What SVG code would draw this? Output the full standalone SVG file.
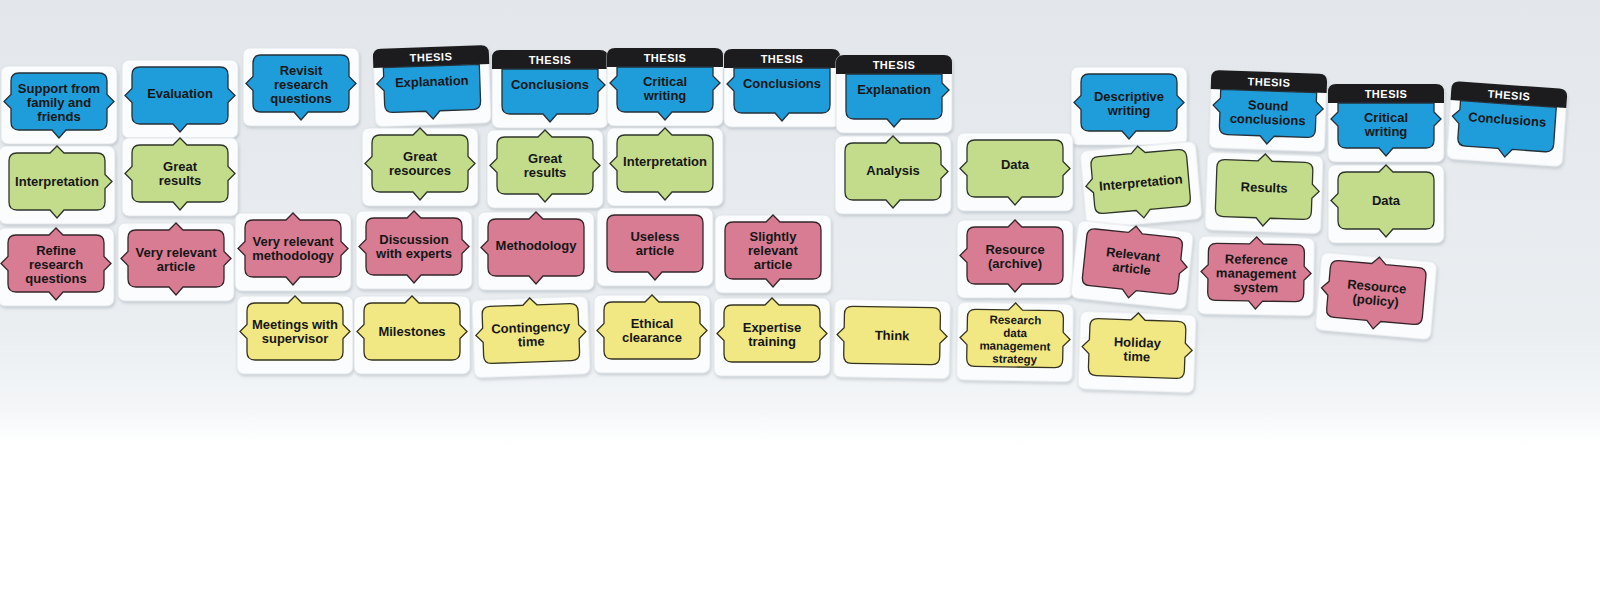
<svg xmlns="http://www.w3.org/2000/svg" xmlns:xlink="http://www.w3.org/1999/xlink" width="1600" height="600" viewBox="0 0 1600 600">
<style>
.card{fill:#fbfcfd;stroke:#dde2e6;stroke-width:0.8;filter:url(#sh)}
.blue{fill:#1f9ddb;stroke:#24303a;stroke-width:1.3}
.green{fill:#c2dc8c;stroke:#2e3428;stroke-width:1.3}
.pink{fill:#d77c93;stroke:#35252a;stroke-width:1.3}
.yellow{fill:#f1e883;stroke:#35331f;stroke-width:1.3}
.hdr{fill:#1c1c1f}
.th{font-family:"Liberation Sans",Arial,sans-serif;font-weight:bold;font-size:11px;fill:#ffffff;text-anchor:middle;letter-spacing:0.5px}
.lbl{font-family:"Liberation Sans",Arial,sans-serif;font-weight:bold;font-size:13px;fill:#161616;text-anchor:middle}
.sm{font-size:11.5px}
</style>
<defs>
<linearGradient id="bg" x1="0" y1="0" x2="0" y2="1">
<stop offset="0" stop-color="#e3e7eb"/>
<stop offset="0.55" stop-color="#eaeef1"/>
<stop offset="0.68" stop-color="#f4f6f8"/>
<stop offset="0.74" stop-color="#ffffff"/>
</linearGradient>
<filter id="sh" x="-10%" y="-10%" width="130%" height="140%">
<feDropShadow dx="1" dy="2" stdDeviation="1.6" flood-color="#7f8b96" flood-opacity="0.35"/>
</filter>
<rect id="base" class="card" x="0" y="0" width="116" height="78" rx="7"/>
<path id="hd" d="M0 19V8Q0 0 8 0H108Q116 0 116 8V19Z"/>
<path id="s-lrb" d="M18 7H98Q106 7 106 15V28.5L113 35.5L106 42.5V56Q106 64 98 64H65L58 72L51 64H18Q10 64 10 56V42.5L3 35.5L10 28.5V15Q10 7 18 7Z"/>
<path id="s-trb" d="M18 7H51L58 0L65 7H98Q106 7 106 15V28.5L113 35.5L106 42.5V56Q106 64 98 64H65L58 72L51 64H18Q10 64 10 56V15Q10 7 18 7Z"/>
<path id="s-tlrb" d="M18 7H51L58 0L65 7H98Q106 7 106 15V28.5L113 35.5L106 42.5V56Q106 64 98 64H65L58 72L51 64H18Q10 64 10 56V42.5L3 35.5L10 28.5V15Q10 7 18 7Z"/>
<path id="s-tlb" d="M18 7H51L58 0L65 7H98Q106 7 106 15V56Q106 64 98 64H65L58 72L51 64H18Q10 64 10 56V42.5L3 35.5L10 28.5V15Q10 7 18 7Z"/>
<path id="s-b" d="M18 7H98Q106 7 106 15V56Q106 64 98 64H65L58 72L51 64H18Q10 64 10 56V15Q10 7 18 7Z"/>
<path id="s-tb" d="M18 7H51L58 0L65 7H98Q106 7 106 15V56Q106 64 98 64H65L58 72L51 64H18Q10 64 10 56V15Q10 7 18 7Z"/>
<path id="s-tlr" d="M18 7H51L58 0L65 7H98Q106 7 106 15V28.5L113 35.5L106 42.5V56Q106 64 98 64H18Q10 64 10 56V42.5L3 35.5L10 28.5V15Q10 7 18 7Z"/>
<path id="s-lr" d="M18 7H98Q106 7 106 15V28.5L113 35.5L106 42.5V56Q106 64 98 64H18Q10 64 10 56V42.5L3 35.5L10 28.5V15Q10 7 18 7Z"/>
<path id="t-lb" d="M10 19H106V56Q106 64 98 64H65L58 72L51 64H18Q10 64 10 56V42L3 35L10 28Z"/>
<path id="t-rb" d="M10 19H106V28L113 35L106 42V56Q106 64 98 64H65L58 72L51 64H18Q10 64 10 56Z"/>
<path id="t-lrb" d="M10 19H106V28L113 35L106 42V56Q106 64 98 64H65L58 72L51 64H18Q10 64 10 56V42L3 35L10 28Z"/>
</defs>
<rect x="0" y="0" width="1600" height="600" fill="url(#bg)"/>

<!-- Blue row -->
<g id="card-support" transform="translate(1,66)"><use href="#base"/><use href="#s-lrb" class="blue"/><text class="lbl" x="58" y="27">Support from</text><text class="lbl" x="58" y="41">family and</text><text class="lbl" x="58" y="55">friends</text></g>
<g id="card-evaluation" transform="translate(122,60)"><use href="#base"/><use href="#s-lrb" class="blue"/><text class="lbl" x="58" y="38">Evaluation</text></g>
<g id="card-revisit" transform="translate(243,48)"><use href="#base"/><use href="#s-lrb" class="blue"/><text class="lbl" x="58" y="27">Revisit</text><text class="lbl" x="58" y="41">research</text><text class="lbl" x="58" y="55">questions</text></g>
<g id="card-thesis-explanation-1" transform="translate(374,47) rotate(-2 58 39)"><use href="#base"/><use href="#hd" class="hdr"/><text class="th" x="58" y="14">THESIS</text><use href="#t-lb" class="blue"/><text class="lbl" x="58" y="39">Explanation</text></g>
<g id="card-thesis-conclusions-1" transform="translate(492,50)"><use href="#base"/><use href="#hd" class="hdr"/><text class="th" x="58" y="14">THESIS</text><use href="#t-rb" class="blue"/><text class="lbl" x="58" y="39">Conclusions</text></g>
<g id="card-thesis-critical-1" transform="translate(607,48)"><use href="#base"/><use href="#hd" class="hdr"/><text class="th" x="58" y="14">THESIS</text><use href="#t-lrb" class="blue"/><text class="lbl" x="58" y="38">Critical</text><text class="lbl" x="58" y="52">writing</text></g>
<g id="card-thesis-conclusions-2" transform="translate(724,49)"><use href="#base"/><use href="#hd" class="hdr"/><text class="th" x="58" y="14">THESIS</text><use href="#t-lb" class="blue"/><text class="lbl" x="58" y="39">Conclusions</text></g>
<g id="card-thesis-explanation-2" transform="translate(836,55)"><use href="#base"/><use href="#hd" class="hdr"/><text class="th" x="58" y="14">THESIS</text><use href="#t-rb" class="blue"/><text class="lbl" x="58" y="39">Explanation</text></g>
<g id="card-descriptive" transform="translate(1071,67)"><use href="#base"/><use href="#s-lrb" class="blue"/><text class="lbl" x="58" y="34">Descriptive</text><text class="lbl" x="58" y="48">writing</text></g>
<g id="card-thesis-sound" transform="translate(1210,72) rotate(2 58 39)"><use href="#base"/><use href="#hd" class="hdr"/><text class="th" x="58" y="14">THESIS</text><use href="#t-lrb" class="blue"/><text class="lbl" x="58" y="38">Sound</text><text class="lbl" x="58" y="52">conclusions</text></g>
<g id="card-thesis-critical-2" transform="translate(1328,84)"><use href="#base"/><use href="#hd" class="hdr"/><text class="th" x="58" y="14">THESIS</text><use href="#t-lrb" class="blue"/><text class="lbl" x="58" y="38">Critical</text><text class="lbl" x="58" y="52">writing</text></g>
<g id="card-thesis-conclusions-3" transform="translate(1449,85) rotate(4 58 39)"><use href="#base"/><use href="#hd" class="hdr"/><text class="th" x="58" y="14">THESIS</text><use href="#t-lb" class="blue"/><text class="lbl" x="58" y="39">Conclusions</text></g>

<!-- Green row -->
<g id="card-interpretation-1" transform="translate(-1,146)"><use href="#base"/><use href="#s-trb" class="green"/><text class="lbl" x="58" y="40">Interpretation</text></g>
<g id="card-great-results-1" transform="translate(122,138)"><use href="#base"/><use href="#s-tlrb" class="green"/><text class="lbl" x="58" y="33">Great</text><text class="lbl" x="58" y="47">results</text></g>
<g id="card-great-resources" transform="translate(362,128)"><use href="#base"/><use href="#s-tlrb" class="green"/><text class="lbl" x="58" y="33">Great</text><text class="lbl" x="58" y="47">resources</text></g>
<g id="card-great-results-2" transform="translate(487,130)"><use href="#base"/><use href="#s-tlrb" class="green"/><text class="lbl" x="58" y="33">Great</text><text class="lbl" x="58" y="47">results</text></g>
<g id="card-interpretation-2" transform="translate(607,128)"><use href="#base"/><use href="#s-tlb" class="green"/><text class="lbl" x="58" y="38">Interpretation</text></g>
<g id="card-analysis" transform="translate(835,136)"><use href="#base"/><use href="#s-trb" class="green"/><text class="lbl" x="58" y="39">Analysis</text></g>
<g id="card-data-1" transform="translate(957,133)"><use href="#base"/><use href="#s-lrb" class="green"/><text class="lbl" x="58" y="36">Data</text></g>
<g id="card-interpretation-3" transform="translate(1083,146) rotate(-5 58 39)"><use href="#base"/><use href="#s-tlb" class="green"/><text class="lbl" x="58" y="41">Interpretation</text></g>
<g id="card-results" transform="translate(1206,154) rotate(2 58 39)"><use href="#base"/><use href="#s-trb" class="green"/><text class="lbl" x="58" y="38">Results</text></g>
<g id="card-data-2" transform="translate(1328,165)"><use href="#base"/><use href="#s-tlb" class="green"/><text class="lbl" x="58" y="40">Data</text></g>

<!-- Pink row -->
<g id="card-refine" transform="translate(-2,228)"><use href="#base"/><use href="#s-tlrb" class="pink"/><text class="lbl" x="58" y="27">Refine</text><text class="lbl" x="58" y="41">research</text><text class="lbl" x="58" y="55">questions</text></g>
<g id="card-very-relevant-article" transform="translate(118,223)"><use href="#base"/><use href="#s-tlrb" class="pink"/><text class="lbl" x="58" y="34">Very relevant</text><text class="lbl" x="58" y="48">article</text></g>
<g id="card-very-relevant-methodology" transform="translate(235,213)"><use href="#base"/><use href="#s-tlrb" class="pink"/><text class="lbl" x="58" y="33">Very relevant</text><text class="lbl" x="58" y="47">methodology</text></g>
<g id="card-discussion" transform="translate(356,211)"><use href="#base"/><use href="#s-tlrb" class="pink"/><text class="lbl" x="58" y="33">Discussion</text><text class="lbl" x="58" y="47">with experts</text></g>
<g id="card-methodology" transform="translate(478,212)"><use href="#base"/><use href="#s-tlb" class="pink"/><text class="lbl" x="58" y="38">Methodology</text></g>
<g id="card-useless" transform="translate(597,208)"><use href="#base"/><use href="#s-b" class="pink"/><text class="lbl" x="58" y="33">Useless</text><text class="lbl" x="58" y="47">article</text></g>
<g id="card-slightly-relevant" transform="translate(715,215)"><use href="#base"/><use href="#s-tb" class="pink"/><text class="lbl" x="58" y="26">Slightly</text><text class="lbl" x="58" y="40">relevant</text><text class="lbl" x="58" y="54">article</text></g>
<g id="card-resource-archive" transform="translate(957,220)"><use href="#base"/><use href="#s-tlb" class="pink"/><text class="lbl" x="58" y="34">Resource</text><text class="lbl" x="58" y="48">(archive)</text></g>
<g id="card-relevant-article" transform="translate(1074,226) rotate(6 58 39)"><use href="#base"/><use href="#s-trb" class="pink"/><text class="lbl" x="58" y="33">Relevant</text><text class="lbl" x="58" y="47">article</text></g>
<g id="card-reference-management" transform="translate(1198,237) rotate(1 58 39)"><use href="#base"/><use href="#s-tlrb" class="pink"/><text class="lbl" x="58" y="27">Reference</text><text class="lbl" x="58" y="41">management</text><text class="lbl" x="58" y="55">system</text></g>
<g id="card-resource-policy" transform="translate(1318,257) rotate(5 58 39)"><use href="#base"/><use href="#s-tlb" class="pink"/><text class="lbl" x="58" y="34">Resource</text><text class="lbl" x="58" y="48">(policy)</text></g>

<!-- Yellow row -->
<g id="card-meetings" transform="translate(237,296)"><use href="#base"/><use href="#s-tlr" class="yellow"/><text class="lbl" x="58" y="33">Meetings with</text><text class="lbl" x="58" y="47">supervisor</text></g>
<g id="card-milestones" transform="translate(354,296)"><use href="#base"/><use href="#s-tlr" class="yellow"/><text class="lbl" x="58" y="40">Milestones</text></g>
<g id="card-contingency" transform="translate(473,298) rotate(-2 58 39)"><use href="#base"/><use href="#s-tlr" class="yellow"/><text class="lbl" x="58" y="34">Contingency</text><text class="lbl" x="58" y="48">time</text></g>
<g id="card-ethical" transform="translate(594,295)"><use href="#base"/><use href="#s-tlr" class="yellow"/><text class="lbl" x="58" y="33">Ethical</text><text class="lbl" x="58" y="47">clearance</text></g>
<g id="card-expertise" transform="translate(714,298)"><use href="#base"/><use href="#s-tlr" class="yellow"/><text class="lbl" x="58" y="34">Expertise</text><text class="lbl" x="58" y="48">training</text></g>
<g id="card-think" transform="translate(834,300) rotate(1 58 39)"><use href="#base"/><use href="#s-lr" class="yellow"/><text class="lbl" x="58" y="40">Think</text></g>
<g id="card-research-data" transform="translate(957,303) rotate(1 58 39)"><use href="#base"/><use href="#s-tlr" class="yellow"/><text class="lbl sm" x="58" y="21">Research</text><text class="lbl sm" x="58" y="34">data</text><text class="lbl sm" x="58" y="47">management</text><text class="lbl sm" x="58" y="60">strategy</text></g>
<g id="card-holiday" transform="translate(1079,313) rotate(2 58 39)"><use href="#base"/><use href="#s-tlr" class="yellow"/><text class="lbl" x="58" y="34">Holiday</text><text class="lbl" x="58" y="48">time</text></g>
</svg>
